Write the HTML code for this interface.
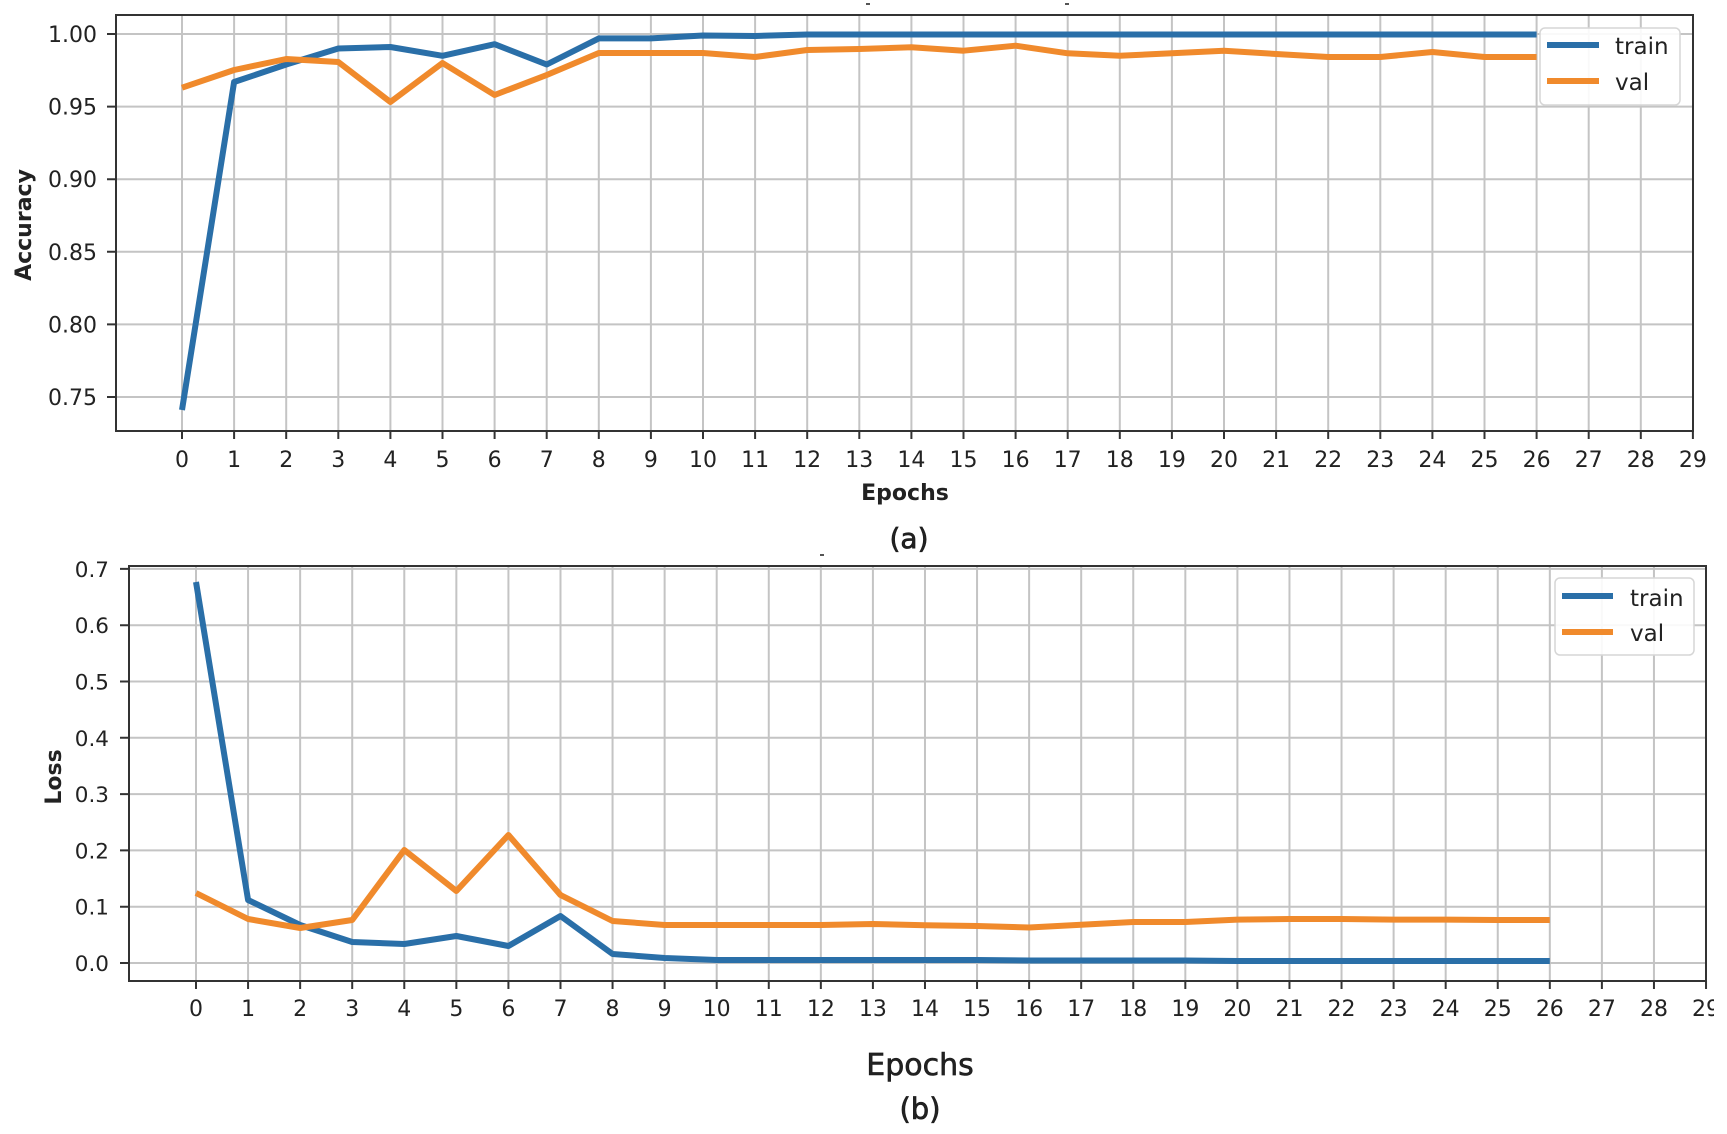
<!DOCTYPE html>
<html><head><meta charset="utf-8"><style>
html,body{margin:0;padding:0;background:#fff;}
svg{display:block;}
text{font-family:"DejaVu Sans","Liberation Sans",sans-serif;fill:#222;}
</style></head><body>
<svg width="1727" height="1134" viewBox="0 0 1727 1134" xmlns="http://www.w3.org/2000/svg">
<rect width="1727" height="1134" fill="#fff"/>

<!-- ============ TOP PLOT (a) ============ -->
<g stroke="#c4c4c4" stroke-width="2" fill="none">
<path d="M182 15V431M234.1 15V431M286.2 15V431M338.3 15V431M390.4 15V431M442.5 15V431M494.6 15V431M546.7 15V431M598.8 15V431M650.9 15V431M703 15V431M755.1 15V431M807.2 15V431M859.3 15V431M911.4 15V431M963.5 15V431M1015.6 15V431M1067.7 15V431M1119.8 15V431M1171.9 15V431M1224 15V431M1276.1 15V431M1328.2 15V431M1380.3 15V431M1432.4 15V431M1484.5 15V431M1536.6 15V431M1588.7 15V431M1640.8 15V431"/>
<path d="M116 34H1693M116 106.6H1693M116 179.2H1693M116 251.8H1693M116 324.4H1693M116 397H1693"/>
</g>
<polyline fill="none" stroke="#2a6fa8" stroke-width="6" stroke-linejoin="round" points="182,410 234.1,82 286.2,64.5 338.3,48.5 390.4,47 442.5,55.8 494.6,44.2 546.7,64.5 598.8,38.4 650.9,38.4 703,35.5 755.1,36 807.2,34.5 859.3,34.5 911.4,34.5 963.5,34.5 1015.6,34.5 1067.7,34.5 1119.8,34.5 1171.9,34.5 1224,34.5 1276.1,34.5 1328.2,34.5 1380.3,34.5 1432.4,34.5 1484.5,34.5 1536.6,34.5"/>
<polyline fill="none" stroke="#f08a2c" stroke-width="6" stroke-linejoin="round" points="182,87.7 234.1,70 286.2,59 338.3,62 390.4,102 442.5,63 494.6,95 546.7,75 598.8,53 650.9,53 703,53 755.1,57 807.2,50 859.3,49 911.4,47.3 963.5,50.7 1015.6,45.7 1067.7,53.3 1119.8,55.7 1171.9,53.3 1224,50.7 1276.1,54 1328.2,57 1380.3,57 1432.4,52 1484.5,57 1536.6,57"/>
<rect x="116" y="15" width="1577" height="416" fill="none" stroke="#333" stroke-width="2"/>
<g stroke="#333" stroke-width="2">
<path d="M182 431v8M234.1 431v8M286.2 431v8M338.3 431v8M390.4 431v8M442.5 431v8M494.6 431v8M546.7 431v8M598.8 431v8M650.9 431v8M703 431v8M755.1 431v8M807.2 431v8M859.3 431v8M911.4 431v8M963.5 431v8M1015.6 431v8M1067.7 431v8M1119.8 431v8M1171.9 431v8M1224 431v8M1276.1 431v8M1328.2 431v8M1380.3 431v8M1432.4 431v8M1484.5 431v8M1536.6 431v8M1588.7 431v8M1640.8 431v8M1692.9 431v8"/>
<path d="M107 34h9M107 106.6h9M107 179.2h9M107 251.8h9M107 324.4h9M107 397h9"/>
</g>
<g font-size="22" text-anchor="end">
<text x="97" y="42">1.00</text>
<text x="97" y="114.6">0.95</text>
<text x="97" y="187.2">0.90</text>
<text x="97" y="259.8">0.85</text>
<text x="97" y="332.4">0.80</text>
<text x="97" y="405">0.75</text>
</g>
<g font-size="22" text-anchor="middle">
<text x="182" y="467">0</text><text x="234.1" y="467">1</text><text x="286.2" y="467">2</text><text x="338.3" y="467">3</text><text x="390.4" y="467">4</text><text x="442.5" y="467">5</text><text x="494.6" y="467">6</text><text x="546.7" y="467">7</text><text x="598.8" y="467">8</text><text x="650.9" y="467">9</text><text x="703" y="467">10</text><text x="755.1" y="467">11</text><text x="807.2" y="467">12</text><text x="859.3" y="467">13</text><text x="911.4" y="467">14</text><text x="963.5" y="467">15</text><text x="1015.6" y="467">16</text><text x="1067.7" y="467">17</text><text x="1119.8" y="467">18</text><text x="1171.9" y="467">19</text><text x="1224" y="467">20</text><text x="1276.1" y="467">21</text><text x="1328.2" y="467">22</text><text x="1380.3" y="467">23</text><text x="1432.4" y="467">24</text><text x="1484.5" y="467">25</text><text x="1536.6" y="467">26</text><text x="1588.7" y="467">27</text><text x="1640.8" y="467">28</text><text x="1692.9" y="467">29</text>
</g>
<text x="905" y="500" font-size="22" font-weight="bold" text-anchor="middle" fill="#1a1a1a">Epochs</text>
<text transform="translate(31,225) rotate(-90)" font-size="22" font-weight="bold" text-anchor="middle" fill="#1a1a1a">Accuracy</text>
<text x="909" y="548" font-size="28" text-anchor="middle" fill="#1a1a1a" stroke="#1a1a1a" stroke-width="0.7">(a)</text>
<!-- legend top -->
<rect x="1540" y="28" width="140" height="77" rx="5" fill="#fff" fill-opacity="0.9" stroke="#d6d6d6" stroke-width="1.5"/>
<line x1="1547" y1="45" x2="1599" y2="45" stroke="#2a6fa8" stroke-width="6"/>
<line x1="1547" y1="81" x2="1599" y2="81" stroke="#f08a2c" stroke-width="6"/>
<text x="1615" y="54" font-size="23">train</text>
<text x="1615" y="90" font-size="23">val</text>
<rect x="866" y="3" width="4" height="2" fill="#555"/>
<rect x="1065" y="3" width="4" height="2" fill="#555"/>
<rect x="820" y="554" width="4" height="2" fill="#555"/>

<!-- ============ BOTTOM PLOT (b) ============ -->
<g stroke="#c4c4c4" stroke-width="2" fill="none">
<path d="M196 566V981M248.07 566V981M300.14 566V981M352.21 566V981M404.28 566V981M456.35 566V981M508.42 566V981M560.49 566V981M612.56 566V981M664.63 566V981M716.7 566V981M768.77 566V981M820.84 566V981M872.91 566V981M924.98 566V981M977.05 566V981M1029.12 566V981M1081.19 566V981M1133.26 566V981M1185.33 566V981M1237.4 566V981M1289.47 566V981M1341.54 566V981M1393.61 566V981M1445.68 566V981M1497.75 566V981M1549.82 566V981M1601.89 566V981M1653.96 566V981"/>
<path d="M129 963H1706M129 906.7H1706M129 850.4H1706M129 794.1H1706M129 737.8H1706M129 681.5H1706M129 625.2H1706M129 568.9H1706"/>
</g>
<polyline fill="none" stroke="#2a6fa8" stroke-width="6" stroke-linejoin="round" points="196,582 248.07,900 300.14,925 352.21,942 404.28,944 456.35,936 508.42,946 560.49,916 612.56,954 664.63,958 716.7,960 768.77,960 820.84,960 872.91,960 924.98,960 977.05,960 1029.12,960.5 1081.19,960.5 1133.26,960.5 1185.33,960.5 1237.4,961 1289.47,961 1341.54,961 1393.61,961 1445.68,961 1497.75,961 1549.82,961"/>
<polyline fill="none" stroke="#f08a2c" stroke-width="6" stroke-linejoin="round" points="196,893 248.07,919 300.14,928 352.21,920 404.28,850 456.35,891 508.42,835 560.49,895 612.56,921 664.63,925 716.7,925 768.77,925 820.84,925 872.91,924 924.98,925.3 977.05,926 1029.12,927.5 1081.19,924.7 1133.26,922 1185.33,922 1237.4,919.6 1289.47,919 1341.54,919 1393.61,919.6 1445.68,919.6 1497.75,920 1549.82,920"/>
<rect x="129" y="566" width="1577" height="415" fill="none" stroke="#333" stroke-width="2"/>
<g stroke="#333" stroke-width="2">
<path d="M196 981v8M248.07 981v8M300.14 981v8M352.21 981v8M404.28 981v8M456.35 981v8M508.42 981v8M560.49 981v8M612.56 981v8M664.63 981v8M716.7 981v8M768.77 981v8M820.84 981v8M872.91 981v8M924.98 981v8M977.05 981v8M1029.12 981v8M1081.19 981v8M1133.26 981v8M1185.33 981v8M1237.4 981v8M1289.47 981v8M1341.54 981v8M1393.61 981v8M1445.68 981v8M1497.75 981v8M1549.82 981v8M1601.89 981v8M1653.96 981v8M1706.03 981v8"/>
<path d="M120 963h9M120 906.7h9M120 850.4h9M120 794.1h9M120 737.8h9M120 681.5h9M120 625.2h9M120 568.9h9"/>
</g>
<g font-size="21.5" text-anchor="end">
<text x="109" y="971">0.0</text>
<text x="109" y="914.7">0.1</text>
<text x="109" y="858.4">0.2</text>
<text x="109" y="802.1">0.3</text>
<text x="109" y="745.8">0.4</text>
<text x="109" y="689.5">0.5</text>
<text x="109" y="633.2">0.6</text>
<text x="109" y="576.9">0.7</text>
</g>
<g font-size="22" text-anchor="middle">
<text x="196" y="1016">0</text><text x="248.07" y="1016">1</text><text x="300.14" y="1016">2</text><text x="352.21" y="1016">3</text><text x="404.28" y="1016">4</text><text x="456.35" y="1016">5</text><text x="508.42" y="1016">6</text><text x="560.49" y="1016">7</text><text x="612.56" y="1016">8</text><text x="664.63" y="1016">9</text><text x="716.7" y="1016">10</text><text x="768.77" y="1016">11</text><text x="820.84" y="1016">12</text><text x="872.91" y="1016">13</text><text x="924.98" y="1016">14</text><text x="977.05" y="1016">15</text><text x="1029.12" y="1016">16</text><text x="1081.19" y="1016">17</text><text x="1133.26" y="1016">18</text><text x="1185.33" y="1016">19</text><text x="1237.4" y="1016">20</text><text x="1289.47" y="1016">21</text><text x="1341.54" y="1016">22</text><text x="1393.61" y="1016">23</text><text x="1445.68" y="1016">24</text><text x="1497.75" y="1016">25</text><text x="1549.82" y="1016">26</text><text x="1601.89" y="1016">27</text><text x="1653.96" y="1016">28</text><text x="1706.03" y="1016">29</text>
</g>
<rect x="1714" y="990" width="13" height="40" fill="#fff"/>
<text x="920" y="1075" font-size="30" text-anchor="middle" fill="#1a1a1a" stroke="#1a1a1a" stroke-width="0.6">Epochs</text>
<text transform="translate(61,777) rotate(-90)" font-size="22" font-weight="bold" text-anchor="middle" fill="#1a1a1a">Loss</text>
<text x="920" y="1119" font-size="29" text-anchor="middle" fill="#1a1a1a" stroke="#1a1a1a" stroke-width="0.7">(b)</text>
<!-- legend bottom -->
<rect x="1555" y="578" width="139" height="77" rx="5" fill="#fff" fill-opacity="0.9" stroke="#d6d6d6" stroke-width="1.5"/>
<line x1="1562" y1="596" x2="1613" y2="596" stroke="#2a6fa8" stroke-width="6"/>
<line x1="1562" y1="632" x2="1613" y2="632" stroke="#f08a2c" stroke-width="6"/>
<text x="1630" y="606" font-size="23">train</text>
<text x="1630" y="641" font-size="23">val</text>
</svg>
</body></html>
